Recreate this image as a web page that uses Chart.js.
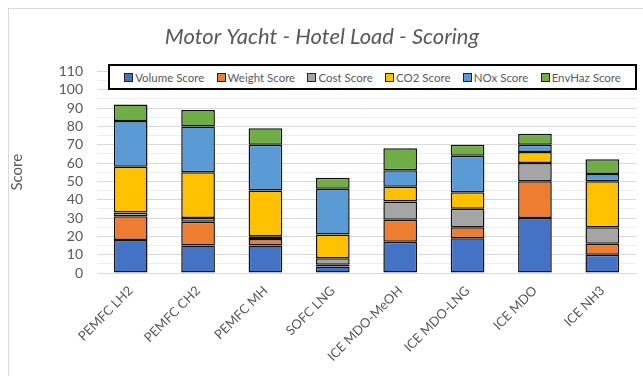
<!DOCTYPE html>
<html>
<head>
<meta charset="utf-8">
<script src="https://cdn.jsdelivr.net/npm/chart.js@4/dist/chart.umd.min.js"></script>
<style>
  html, body { margin: 0; padding: 0; background: #fff; }
  #wrap { position: relative; width: 643px; height: 376px; overflow: hidden; }
  #frame { position: absolute; left: 8px; top: 8px; width: 660px; height: 400px; border: 1px solid #d9d9d9; box-sizing: border-box; }
  canvas { position: absolute; left: 0; top: 0; }
  #legend {
    position: absolute; left: 108px; top: 64px; width: 529px; height: 26px;
    border: 2px solid #000; background: #fff; box-sizing: border-box;
    display: flex; align-items: center; justify-content: space-around;
    font-family: Lato, sans-serif; font-size: 11.5px; color: #595959; padding: 0 8px;
  }
  .item { display: flex; align-items: center; white-space: nowrap; }
  .sw { width: 7px; height: 7px; border: 1px solid #222; margin-right: 2px; }
</style>
</head>
<body>
<div id="wrap">
  <div id="frame"></div>
  <canvas id="chart" width="643" height="376"></canvas>
  <div id="legend"></div>
</div>
<script>
// ---- data ----
const categories = ['PEMFC LH2', 'PEMFC CH2', 'PEMFC MH', 'SOFC LNG', 'ICE MDO-MeOH', 'ICE MDO-LNG', 'ICE MDO', 'ICE NH3'];
const volumeScore = [18, 15, 15, 3.5, 17, 19, 30, 10];
const weightScore = [13, 13, 3.5, 1, 12, 6, 20, 6];
const costScore = [2, 2, 1.5, 3.5, 10, 10, 10, 9];
const co2Score = [25, 25, 25, 13, 8, 9, 6, 25];
const noxScore = [25, 25, 25, 25, 9, 20, 4, 4];
const envHazScore = [9, 9, 9, 6, 12, 6, 6, 8];
const yTicks = [0, 10, 20, 30, 40, 50, 60, 70, 80, 90, 100, 110];

const seriesNames = ['Volume Score', 'Weight Score', 'Cost Score', 'CO2 Score', 'NOx Score', 'EnvHaz Score'];
const seriesData = [volumeScore, weightScore, costScore, co2Score, noxScore, envHazScore];
const seriesColors = ['#4472C4', '#ED7D31', '#A5A5A5', '#FFC000', '#5B9BD5', '#70AD47'];

const textGray = '#595959';
const font = 'Lato, "Open Sans", sans-serif';

const datasets = seriesNames.map((name, i) => ({
    label: name,
    data: seriesData[i],
    backgroundColor: seriesColors[i],
    borderColor: '#111',
    borderWidth: 1.5,
    borderSkipped: false,
    barPercentage: 0.5,
    categoryPercentage: 1.0
}));

const chart = new Chart(document.getElementById('chart'), {
    type: 'bar',
    data: { labels: categories, datasets: datasets },
    options: {
        responsive: false,
        animation: false,
        layout: { padding: { left: 8, right: 7, top: 0, bottom: 0 } },
        plugins: {
            legend: { display: false },
            tooltip: { enabled: false },
            title: {
                display: true,
                text: 'Motor Yacht - Hotel Load - Scoring',
                color: textGray,
                font: { family: font, size: 22, style: 'italic', weight: 'normal' },
                padding: { top: 24, bottom: 21 }
            }
        },
        scales: {
            x: {
                stacked: true,
                grid: { display: false },
                border: { color: '#d9d9d9' },
                ticks: {
                    color: textGray,
                    font: { family: font, size: 13 },
                    maxRotation: 45,
                    minRotation: 45,
                    autoSkip: false,
                    padding: 2
                },
                afterFit: (s) => { s.height = 103; }
            },
            y: {
                stacked: true,
                min: 0,
                max: 110,
                border: { display: false },
                grid: {
                    drawTicks: false,
                    color: (ctx) => (ctx.tick && ctx.tick.value % 10 === 0) ? '#d9d9d9' : '#ededed'
                },
                ticks: {
                    stepSize: 5,
                    autoSkip: false,
                    color: textGray,
                    font: { family: font, size: 14 },
                    padding: 14,
                    callback: (v) => yTicks.includes(v) ? v : ''
                },
                title: {
                    display: true,
                    text: 'Score',
                    color: textGray,
                    font: { family: font, size: 15 },
                    padding: { top: 0, bottom: 0 }
                },
                afterFit: (s) => { s.width = 89; }
            }
        }
    }
});

// ---- legend box (overlaps the plot like the original) ----
const legend = document.getElementById('legend');
chart.data.datasets.forEach((ds) => {
    const item = document.createElement('div');
    item.className = 'item';
    const sw = document.createElement('span');
    sw.className = 'sw';
    sw.style.background = ds.backgroundColor;
    const txt = document.createElement('span');
    txt.textContent = ds.label;
    item.appendChild(sw);
    item.appendChild(txt);
    legend.appendChild(item);
});
</script>
</body>
</html>
